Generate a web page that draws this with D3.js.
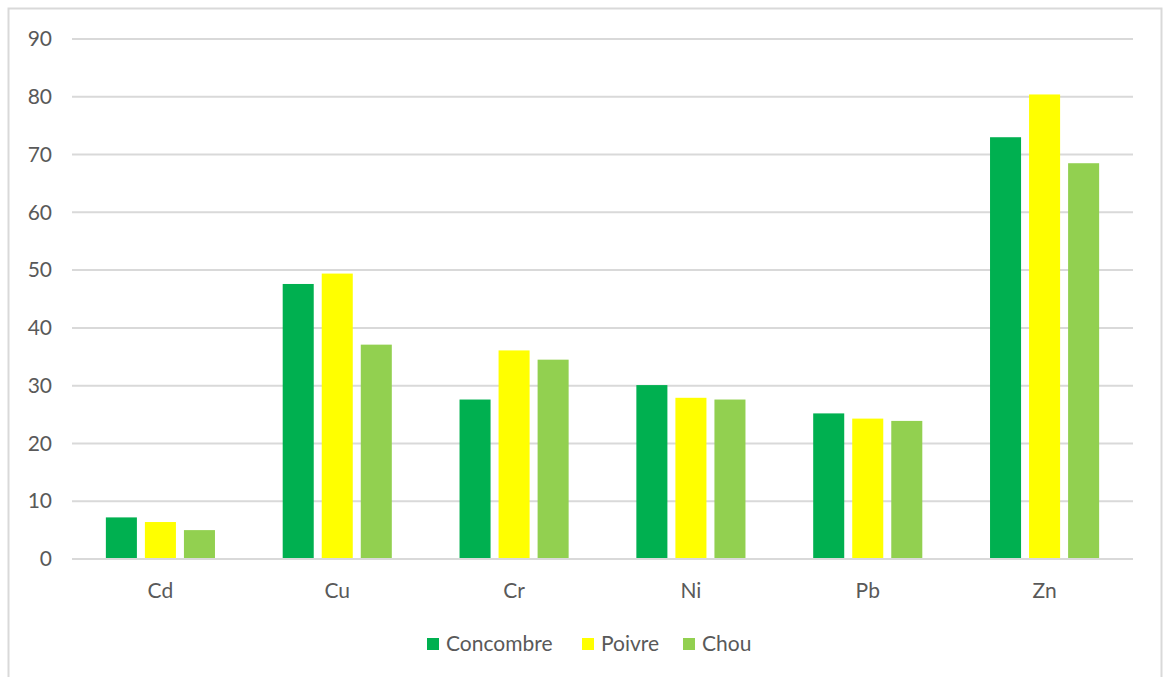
<!DOCTYPE html>
<html><head><meta charset="utf-8">
<script src="https://cdn.jsdelivr.net/npm/d3@7"></script>
<style>body{margin:0;background:#fff}svg{display:block}text{font-family:Lato,"Open Sans",sans-serif;fill:#595959}</style>
</head><body>
<svg id="c" width="1166" height="677"></svg>
<script>
const categories = ["Cd","Cu","Cr","Ni","Pb","Zn"];
const seriesNames = ["Concombre","Poivre","Chou"];
const concombre = [7.2, 47.6, 27.6, 30.1, 25.2, 73.0];
const poivre    = [6.4, 49.4, 36.1, 27.9, 24.3, 80.4];
const chou      = [5.0, 37.1, 34.5, 27.6, 23.9, 68.5];
const colors = ["#00B050","#FFFF00","#92D050"];
const yTicks = [0,10,20,30,40,50,60,70,80,90];

const seriesVals = [concombre, poivre, chou];
const svg = d3.select("#c");
const L = 72, R = 1133, T = 39, B = 559;
const fs = 21;

svg.append("rect").attr("x",8.5).attr("y",8.5).attr("width",1153).attr("height",690)
  .attr("fill","#fff").attr("stroke","#D9D9D9").attr("stroke-width",2);

const y = d3.scaleLinear().domain([0,90]).range([B,T]);
const x0 = d3.scaleBand().domain(categories).range([L,R]).paddingInner(0.383).paddingOuter(0.1915);
const x1 = d3.scaleBand().domain(seriesNames).range([0,x0.bandwidth()]).paddingInner(0.205).paddingOuter(0);

// gridlines
svg.append("g").selectAll("line").data(yTicks).join("line")
  .attr("x1",L).attr("x2",R).attr("y1",d=>y(d)).attr("y2",d=>y(d))
  .attr("stroke","#D9D9D9").attr("stroke-width",2);

// y axis labels
const yAxis = d3.axisLeft(y).tickValues(yTicks).tickSize(0).tickPadding(0);
const ya = svg.append("g").attr("transform",`translate(${L-20},0)`).call(yAxis);
ya.select(".domain").remove();
ya.selectAll("text").attr("font-size",fs).attr("font-family","Lato, 'Open Sans', sans-serif").attr("fill","#595959");

// bars
const data = categories.map((c,i)=>({cat:c, vals: seriesNames.map((s,j)=>({s, v: seriesVals[j][i], col: colors[j]}))}));
const g = svg.append("g").selectAll("g").data(data).join("g")
  .attr("transform",d=>`translate(${x0(d.cat)},0)`);
g.selectAll("rect").data(d=>d.vals).join("rect")
  .attr("x",d=>x1(d.s)).attr("width",x1.bandwidth())
  .attr("y",d=>y(d.v)).attr("height",d=>y(0)-y(d.v))
  .attr("fill",d=>d.col);

// x axis labels
const xAxis = d3.axisBottom(x0).tickSize(0).tickPadding(0);
const xa = svg.append("g").attr("transform",`translate(0,${B+24})`).call(xAxis);
xa.select(".domain").remove();
xa.selectAll("text").attr("font-size",fs).attr("font-family","Lato, 'Open Sans', sans-serif").attr("fill","#595959").attr("dy","0.71em");

// baseline on top
svg.append("line").attr("x1",L).attr("x2",R).attr("y1",y(0)).attr("y2",y(0)).attr("stroke","#D9D9D9").attr("stroke-width",2);

// legend
const legX = [427, 582, 683];
const lg = svg.append("g").selectAll("g").data(seriesNames).join("g")
  .attr("transform",(d,i)=>`translate(${legX[i]},638)`);
lg.append("rect").attr("width",12).attr("height",12).attr("fill",(d,i)=>colors[i]);
lg.append("text").attr("x",19).attr("y",13).attr("font-size",fs).text(d=>d);
</script>
</body></html>
